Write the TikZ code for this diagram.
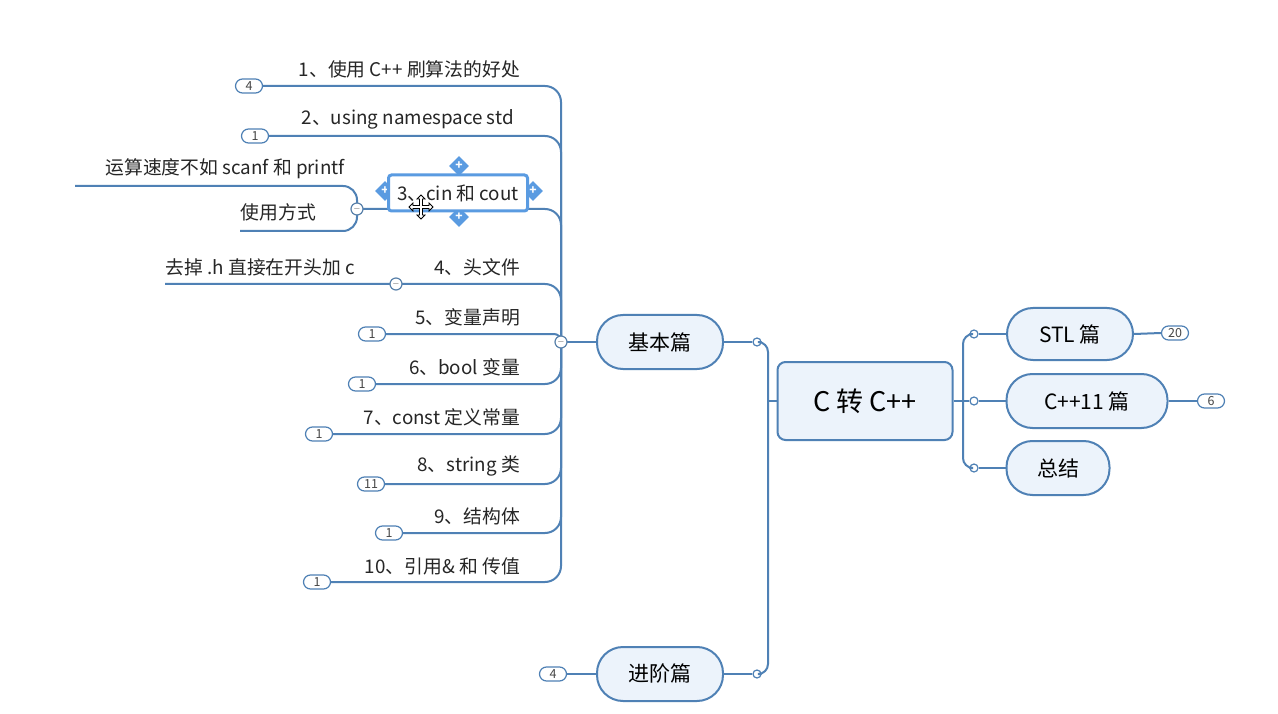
\documentclass[tikz,border=0pt]{standalone}
\usepackage{fontspec}
\setmainfont{Noto Sans CJK SC}
\usetikzlibrary{shapes.misc,shapes.geometric}
\definecolor{lc}{RGB}{79,129,181}
\definecolor{capfill}{RGB}{236,243,251}
\definecolor{selc}{RGB}{90,155,225}
\definecolor{bt}{RGB}{70,70,70}
\begin{document}
\begin{tikzpicture}[x=1pt,y=-1pt,
  conn/.style={draw=lc,line width=2pt},
  capsule/.style={rectangle,rounded corners=26pt,draw=lc,line width=2pt,fill=capfill,minimum height=54pt,inner sep=0pt,font=\fontsize{21}{24}\selectfont},
  badge/.style={rounded rectangle,draw=lc,line width=1.2pt,fill=white,minimum width=27pt,minimum height=14pt,inner sep=0pt,text=bt,font=\fontsize{12.5}{12}\selectfont},
  jdot/.style={circle,draw=lc,line width=1.2pt,fill=white,minimum size=8pt,inner sep=0pt},
  mdot/.style={circle,draw=lc!80!gray,line width=1.2pt,fill=white,minimum size=12pt,inner sep=0pt,text=bt,font=\fontsize{9}{9}\selectfont},
  lbl/.style={inner sep=0pt,font=\fontsize{18.8}{22}\selectfont,text=black!85},
  handle/.style={diamond,fill=selc,minimum size=20pt,inner sep=0pt,text=white,font=\fontsize{12}{12}\selectfont\bfseries}
]
\useasboundingbox (0,0) rectangle (1278,714);
\fill[white] (0,0) rectangle (1278,714);

% main nodes
\node[rectangle,rounded corners=8pt,draw=lc,line width=2pt,fill=capfill,minimum width=175pt,minimum height=78pt,font=\fontsize{27}{30}\selectfont] (root) at (865,401) {C 转 C++};
\node[capsule,minimum width=126pt] (jb) at (660,342) {基本篇};
\node[capsule,minimum width=126pt] (jj) at (660,674) {进阶篇};
\node[capsule,minimum width=126pt,minimum height=52pt] (stl) at (1070,334) {STL 篇};
\node[capsule,minimum width=161pt] (c11) at (1087,401) {C++11 篇};
\node[capsule,minimum width=103pt] (zj) at (1058,468) {总结};

% junctions
\coordinate (lt) at (768,401);
\coordinate (rt) at (963,401);
\node[jdot] (d1) at (757,342) {};
\node[jdot] (d2) at (757,674) {};
\node[jdot] (e1) at (974,334) {};
\node[jdot] (e2) at (974,401) {};
\node[jdot] (e3) at (974,468) {};

\draw[conn] (jb.east) -- (d1.west);
\draw[conn] (jj.east) -- (d2.west);
\draw[conn,rounded corners=10pt] (d1.east) -| (lt);
\draw[conn,rounded corners=10pt] (d2.east) -| (lt);
\draw[conn] (lt) -- (root.west);
\draw[conn] (root.east) -- (rt);
\draw[conn,rounded corners=10pt] (e1.west) -| (rt);
\draw[conn,rounded corners=10pt] (e3.west) -| (rt);
\draw[conn] (rt) -- (e2.west);
\draw[conn] (e1.east) -- (stl.west);
\draw[conn] (e2.east) -- (c11.west);
\draw[conn] (e3.east) -- (zj.west);

% right badges
\node[badge] (b20) at (1175,333) {20};
\node[badge] (b6) at (1211,401) {6};
\node[badge] (b4j) at (553,674) {4};
\draw[conn] (stl.east) -- (b20.west);
\draw[conn] (c11.east) -- (b6.west);
\draw[conn] (jj.west) -- (b4j.east);

% hub of basic branch
\coordinate (hub) at (561,342);
\draw[conn] (jb.west) -- (hub);

% badges of children
\node[badge] (a1) at (249,86) {4};
\node[badge] (a2) at (255,136) {1};
\node[badge] (a5) at (372,334) {1};
\node[badge] (a6) at (362,384) {1};
\node[badge] (a7) at (319,434) {1};
\node[badge] (a8) at (371,484) {11};
\node[badge] (a9) at (389,533) {1};
\node[badge] (a10) at (317,582) {1};

% collapse circles of 3 and 4
\coordinate (s3) at (75,186);
\coordinate (s3b) at (240,231);
\coordinate (s4) at (165,284);
\coordinate (h3) at (357,209);
\coordinate (h4) at (396,284);

\draw[conn,rounded corners=16pt] (a1.east) -| (hub);
\draw[conn,rounded corners=16pt] (a2.east) -| (hub);
\draw[conn,rounded corners=16pt] (h3) -| (hub);
\draw[conn,rounded corners=16pt] (s4) -| (hub);
\draw[conn,rounded corners=7pt] (a5.east) -| (hub);
\draw[conn,rounded corners=16pt] (a6.east) -| (hub);
\draw[conn,rounded corners=16pt] (a7.east) -| (hub);
\draw[conn,rounded corners=16pt] (a8.east) -| (hub);
\draw[conn,rounded corners=16pt] (a9.east) -| (hub);
\draw[conn,rounded corners=16pt] (a10.east) -| (hub);
\draw[conn,rounded corners=14pt] (s3) -| (h3);
\draw[conn,rounded corners=14pt] (s3b) -| (h3);

\node[mdot] (m0) at (hub) {$-$};
\node[mdot] (m3) at (h3) {$-$};
\node[mdot] (m4) at (h4) {$-$};

% labels
\node[lbl,anchor=east] (t1) at (520,69) {1、使用 C++ 刷算法的好处};
\node[lbl,anchor=east] (t2) at (514,119) {2、using namespace std};
\node[lbl,anchor=east] (t31) at (345,169) {运算速度不如 scanf 和 printf};
\node[lbl,anchor=east] (t32) at (316,212) {使用方式};
\node[lbl,anchor=east] (t4) at (520,267) {4、头文件};
\node[lbl,anchor=east] (t41) at (355,267) {去掉 .h 直接在开头加 c};
\node[lbl,anchor=east] (t5) at (520,317) {5、变量声明};
\node[lbl,anchor=east] (t6) at (520,367) {6、bool 变量};
\node[lbl,anchor=east] (t7) at (520,417) {7、const 定义常量};
\node[lbl,anchor=east] (t8) at (520,466) {8、string 类};
\node[lbl,anchor=east] (t9) at (520,516) {9、结构体};
\node[lbl,anchor=east] (t10) at (520,566) {10、引用\& 和 传值};

% selected node 3
\node[handle] (hT) at (459,166) {+};
\node[handle] (hB) at (459,217) {+};
\node[handle] (hL) at (385,191) {+};
\node[handle] (hR) at (533,191) {+};
\node[rectangle,rounded corners=3pt,draw=selc,line width=3pt,fill=white,minimum width=139pt,minimum height=36pt,lbl,inner sep=0pt] (t3) at (458,193) {3、cin 和 cout};

% move cursor
\begin{scope}[shift={(421,207)}]
\filldraw[fill=white,draw=black,line width=0.8pt]
 (0,-12) -- (4,-8) -- (1.5,-8) -- (1.5,-1.5) -- (8,-1.5) -- (8,-4) -- (12,0) -- (8,4) -- (8,1.5) -- (1.5,1.5) -- (1.5,8) -- (4,8) -- (0,12) -- (-4,8) -- (-1.5,8) -- (-1.5,1.5) -- (-8,1.5) -- (-8,4) -- (-12,0) -- (-8,-4) -- (-8,-1.5) -- (-1.5,-1.5) -- (-1.5,-8) -- (-4,-8) -- cycle;
\end{scope}
\end{tikzpicture}
\end{document}
